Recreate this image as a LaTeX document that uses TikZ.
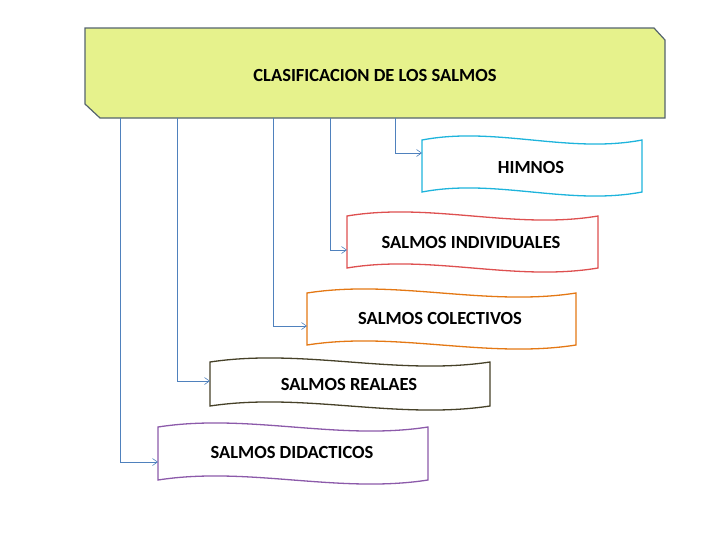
\documentclass[tikz,border=0pt]{standalone}
\usepackage{fontspec}
\setmainfont{Carlito}
\usetikzlibrary{arrows.meta}
\definecolor{titlegreen}{RGB}{230,242,140}
\definecolor{titleedge}{RGB}{85,100,110}
\definecolor{linkblue}{RGB}{79,129,189}
\definecolor{himcol}{RGB}{30,180,220}
\definecolor{indcol}{RGB}{222,80,80}
\definecolor{colcol}{RGB}{228,120,20}
\definecolor{realcol}{RGB}{70,65,40}
\definecolor{didcol}{RGB}{140,90,170}
\tikzset{
  boxtext/.style={font=\bfseries\fontsize{18.5}{22}\selectfont},
  link/.style={linkblue,line width=0.6pt,-{Straight Barb[open,length=5pt,width=7pt]}},
  flag/.style={line width=1.3pt,fill=white}
}
% wavy flag box: x1,y1,x2,y2,colour
\newcommand{\flagbox}[5]{%
  \draw[flag,draw=#5] (#1,#2) .. controls ({#1+(#3-#1)/3},{#2-14}) and ({#1+2*(#3-#1)/3},{#2+14}) .. (#3,#2)
    -- (#3,#4) .. controls ({#1+2*(#3-#1)/3},{#4+14}) and ({#1+(#3-#1)/3},{#4-14}) .. (#1,#4) -- cycle;}
\begin{document}
\begin{tikzpicture}[x=1pt,y=-1pt]
\useasboundingbox (0,0) rectangle (728,546);

%title
\draw[fill=titlegreen,draw=titleedge,line width=1.2pt] (85,28) -- (654,28) -- (665,40) -- (665,118)
  -- (100,118) -- (85,104) -- cycle;
\node[boxtext] (title) at (375,75) {CLASIFICACION DE LOS SALMOS};

%boxes
\flagbox{422}{140}{642}{192}{himcol}
\node[boxtext] (himnos) at (531,167) {HIMNOS};
\flagbox{347}{216}{598}{268}{indcol}
\node[boxtext] (indiv) at (471,242) {SALMOS INDIVIDUALES};
\flagbox{307}{293}{576}{345}{colcol}
\node[boxtext] (colec) at (440,318) {SALMOS COLECTIVOS};
\flagbox{210}{362}{490}{406}{realcol}
\node[boxtext] (reales) at (349,384) {SALMOS REALAES};
\flagbox{158}{427}{428}{480}{didcol}
\node[boxtext] (didac) at (292,452) {SALMOS DIDACTICOS};

%connectors
\coordinate (t1) at (120,118); \coordinate (e1) at (158,462);
\coordinate (t2) at (177,118); \coordinate (e2) at (210,381);
\coordinate (t3) at (273,118); \coordinate (e3) at (307,326);
\coordinate (t4) at (330,118); \coordinate (e4) at (347,250);
\coordinate (t5) at (395,118); \coordinate (e5) at (422,153);
\draw[link] (t1) |- (e1);
\draw[link] (t2) |- (e2);
\draw[link] (t3) |- (e3);
\draw[link] (t4) |- (e4);
\draw[link] (t5) |- (e5);
\end{tikzpicture}
\end{document}
